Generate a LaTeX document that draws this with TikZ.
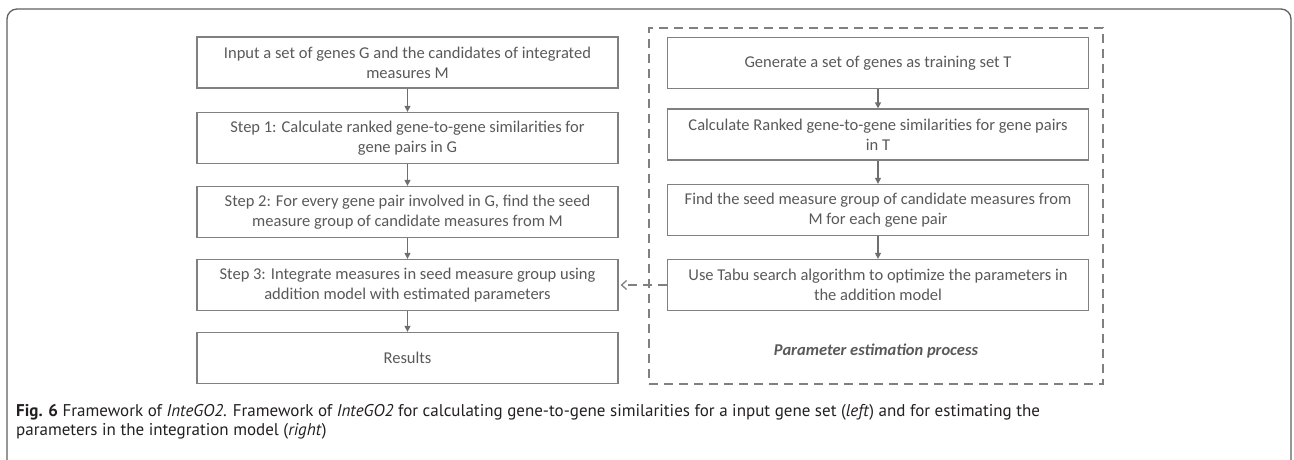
\documentclass[tikz,border=0pt]{standalone}
\usepackage{fontspec}
\setmainfont{Carlito}
\newfontfamily\capfont{PT Sans}
\usetikzlibrary{arrows.meta}
\definecolor{txt}{HTML}{595959}
\definecolor{bd}{HTML}{808080}
\definecolor{fr}{HTML}{5F5F5F}
\definecolor{arr}{HTML}{6E6E6E}
\definecolor{captxt}{HTML}{231F20}
\tikzset{
  box/.style={draw=bd, line width=1.3pt, minimum width=421pt, minimum height=51pt,
    align=center, text=txt, font=\fontsize{16.5}{20}\selectfont, inner sep=0pt},
  flow/.style={draw=arr, line width=1.3pt, -{Triangle[length=6pt,width=6pt]}},
  dashframe/.style={draw=bd, line width=1.3pt, dash pattern=on 9pt off 6pt},
  captext/.style={anchor=base west, inner sep=0pt, text=captxt,
    font=\capfont\fontsize{17}{18}\selectfont},
}
\begin{document}
\begin{tikzpicture}[x=1pt,y=-1pt]
\useasboundingbox (0,0) rectangle (1294,459);
\draw[fr, line width=1.3pt, rounded corners=10pt] (7,470) -- (7,9) -- (1291,9) -- (1291,470);

% left column
\node[box] (l1) at (407.5,62.5) {Input a set of genes G and the candidates of integrated\\measures M};
\node[box] (l2) at (407.5,138) {Step 1: Calculate ranked gene-to-gene similarities for\\gene pairs in G};
\node[box] (l3) at (407.5,212) {Step 2: For every gene pair involved in G, find the seed\\measure group of candidate measures from M};
\node[box] (l4) at (407.5,285) {Step 3: Integrate measures in seed measure group using\\addition model with estimated parameters};
\node[box] (l5) at (407.5,358) {Results};
\draw[flow] (l1) -- (l2);
\draw[flow] (l2) -- (l3);
\draw[flow] (l3) -- (l4);
\draw[flow] (l4) -- (l5);

% right column
\node[dashframe, minimum width=454pt, minimum height=356pt, inner sep=0pt] (pe) at (876,206) {};
\node[box] (r1) at (878,63) {Generate a set of genes as training set T};
\node[box] (r2) at (878,134.5) {Calculate Ranked gene-to-gene similarities for gene pairs\\in T};
\node[box] (r3) at (878,210) {Find the seed measure group of candidate measures from\\M for each gene pair};
\node[box] (r4) at (878,285) {Use Tabu search algorithm to optimize the parameters in\\the addition model};
\node[text=txt, font=\fontsize{16.5}{20}\selectfont\bfseries\itshape, inner sep=0pt] (pel) at (876,351) {Parameter estimation process};
\draw[flow] (r1) -- (r2);
\draw[flow] (r2) -- (r3);
\draw[flow] (r3) -- (r4);
\draw[dashframe, shorten >=2pt, -{Straight Barb[length=5pt,width=9pt]}] (r4.west) -- (l4.east);

% caption
\node[captext] (c1) at (16,416) {\textbf{Fig. 6} Framework of \textit{InteGO2}. Framework of \textit{InteGO2} for calculating gene-to-gene similarities for a input gene set (\textit{left}) and for estimating the};
\node[captext] (c2) at (16,435) {parameters in the integration model (\textit{right})};
\end{tikzpicture}
\end{document}
